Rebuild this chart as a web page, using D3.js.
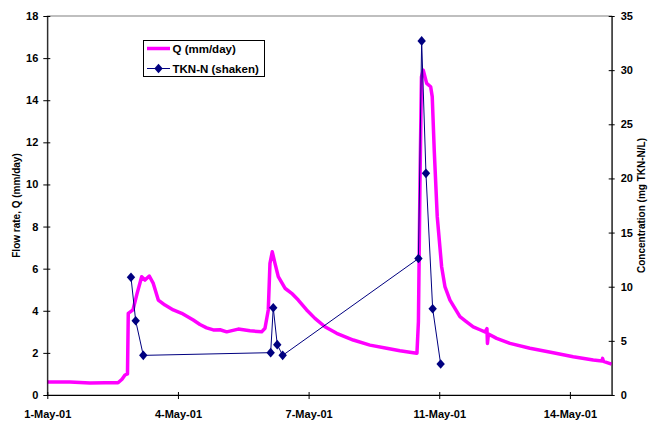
<!DOCTYPE html>
<html>
<head>
<meta charset="utf-8">
<script src="https://cdn.jsdelivr.net/npm/d3@7"></script>
<style>
  html, body { margin: 0; padding: 0; background: #fff; }
  svg { display: block; font-family: "Liberation Sans", Arial, sans-serif; }
</style>
</head>
<body>
<svg id="chart" width="650" height="422"></svg>
<script>
// ---- data (days since 1-May-01 00:00) ----
const qDay = [0, 0.579, 1.089, 1.472, 1.804, 1.906, 1.982, 2.046, 2.066, 2.186, 2.288, 2.408, 2.492, 2.602, 2.704, 2.832, 3.003, 3.214, 3.429, 3.724, 3.895, 4.066, 4.235, 4.406, 4.577, 4.872, 5.171, 5.469, 5.554, 5.638, 5.681, 5.740, 5.809, 5.893, 6.064, 6.235, 6.403, 6.617, 6.829, 7.084, 7.383, 7.806, 8.232, 8.658, 8.997, 9.337, 9.431, 9.469, 9.508, 9.546, 9.592, 9.679, 9.781, 9.821, 9.872, 9.949, 10.061, 10.145, 10.273, 10.528, 10.681, 10.867, 11.038, 11.166, 11.217, 11.230, 11.255, 11.464, 11.804, 12.314, 12.908, 13.418, 13.929, 14.151, 14.168, 14.189, 14.398];
const qVal = [0.62, 0.62, 0.57, 0.58, 0.58, 0.75, 0.95, 1.0, 3.88, 4.04, 4.8, 5.62, 5.46, 5.65, 5.3, 4.51, 4.27, 4.04, 3.88, 3.56, 3.35, 3.19, 3.09, 3.1, 3.0, 3.13, 3.05, 3.0, 3.17, 4.04, 6.25, 6.8, 6.25, 5.62, 5.07, 4.83, 4.51, 4.04, 3.64, 3.24, 2.93, 2.61, 2.37, 2.22, 2.1, 2.01, 1.98, 3.5, 10.0, 15.1, 15.43, 14.8, 14.64, 14.17, 11.63, 8.47, 6.09, 5.15, 4.51, 3.72, 3.5, 3.24, 3.1, 3.0, 3.15, 2.45, 2.9, 2.69, 2.45, 2.22, 2.01, 1.82, 1.66, 1.62, 1.74, 1.6, 1.47];

const tknDay = [2.135, 2.255, 2.449, 5.699, 5.765, 5.867, 6.005, 9.469, 9.551, 9.661, 9.832, 10.036];
const tknVal = [10.87, 6.86, 3.66, 3.91, 8.06, 4.65, 3.66, 12.6, 32.7, 20.47, 7.97, 2.86];

const xTickDays = [0, 10/3, 20/3, 10, 40/3];
const xEndDay = 14.4;
const leftTicks = [0, 2, 4, 6, 8, 10, 12, 14, 16, 18];
const rightTicks = [0, 5, 10, 15, 20, 25, 30, 35];

const seriesNames = ["Q (mm/day)", "TKN-N (shaken)"];
const leftTitle = "Flow rate, Q (mm/day)";
const rightTitle = "Concentration (mg TKN-N/L)";

// ---- helpers ----
const base = Date.UTC(2001, 4, 1);
const toDate = d => new Date(base + d * 864e5);

const L = 47.3, R = 611.7, T = 16, B = 395;
const svg = d3.select("#chart");

const x = d3.scaleUtc().domain([toDate(0), toDate(xEndDay)]).range([L, R]);
const yL = d3.scaleLinear().domain([0, 18]).range([B, T]);
const yR = d3.scaleLinear().domain([0, 35]).range([B, T]);

// plot-area border
svg.append("rect").attr("x", L).attr("y", T).attr("width", R - L).attr("height", B - T)
  .attr("fill", "none").attr("stroke", "#808080").attr("stroke-width", 1);

// Q line
const qData = qDay.map((d, i) => ({ t: toDate(d), v: qVal[i] }));
svg.append("path").datum(qData)
  .attr("fill", "none").attr("stroke", "#FF00FF").attr("stroke-width", 3.5)
  .attr("stroke-linejoin", "round")
  .attr("d", d3.line().x(d => x(d.t)).y(d => yL(d.v)));

// TKN line + markers
const tData = tknDay.map((d, i) => ({ t: toDate(d), v: tknVal[i] }));
svg.append("path").datum(tData)
  .attr("fill", "none").attr("stroke", "#000080").attr("stroke-width", 1)
  .attr("d", d3.line().x(d => x(d.t)).y(d => yR(d.v)));
const diamond = "M0,-4.8L4.2,0L0,4.8L-4.2,0Z";
svg.append("g").selectAll("path").data(tData).join("path")
  .attr("transform", d => `translate(${x(d.t)},${yR(d.v)})`)
  .attr("d", diamond).attr("fill", "#000080");

// axes
function styleAxis(g) {
  g.selectAll("path.domain").attr("stroke", "#000").attr("stroke-width", 1);
  g.selectAll(".tick line").attr("stroke", "#000");
  g.selectAll("text").attr("font-size", 11).attr("font-weight", "bold").attr("fill", "#000")
    .attr("font-family", '"Liberation Sans", Arial, sans-serif');
}

const gx = svg.append("g").attr("transform", `translate(0,${B})`)
  .call(d3.axisBottom(x).tickValues(xTickDays.map(toDate))
    .tickFormat(d3.utcFormat("%-d-%b-%y")).tickSizeOuter(0));
gx.selectAll(".tick line").attr("y1", -3).attr("y2", 4);
gx.selectAll(".tick text").attr("y", 15).attr("dy", "0.71em");
styleAxis(gx);

const gl = svg.append("g").attr("transform", `translate(${L},0)`)
  .call(d3.axisLeft(yL).tickValues(leftTicks).tickFormat(d3.format("d")).tickSizeOuter(0));
gl.selectAll(".tick line").attr("x1", 3).attr("x2", -4);
gl.selectAll(".tick text").attr("x", -9);
styleAxis(gl);

const gr = svg.append("g").attr("transform", `translate(${R},0)`)
  .call(d3.axisRight(yR).tickValues(rightTicks).tickFormat(d3.format("d")).tickSizeOuter(0));
gr.selectAll(".tick line").attr("x1", -3).attr("x2", 3);
gr.selectAll(".tick text").attr("x", 9);
styleAxis(gr);

// axis titles
svg.append("text").attr("transform", `translate(20,${(T + B) / 2}) rotate(-90)`)
  .attr("text-anchor", "middle").attr("font-size", 10).attr("font-weight", "bold")
  .text(leftTitle);
svg.append("text").attr("transform", `translate(645,${(T + B) / 2}) rotate(-90)`)
  .attr("text-anchor", "middle").attr("font-size", 10).attr("font-weight", "bold")
  .text(rightTitle);

// legend
const lg = svg.append("g");
lg.append("rect").attr("x", 143.5).attr("y", 40.5).attr("width", 121).attr("height", 36)
  .attr("fill", "#fff").attr("stroke", "#000").attr("stroke-width", 1);
lg.append("line").attr("x1", 147).attr("x2", 170).attr("y1", 48.5).attr("y2", 48.5)
  .attr("stroke", "#FF00FF").attr("stroke-width", 3.5);
lg.append("line").attr("x1", 147).attr("x2", 170).attr("y1", 68.5).attr("y2", 68.5)
  .attr("stroke", "#000080").attr("stroke-width", 1);
lg.append("path").attr("transform", "translate(158.5,68.5)").attr("d", diamond).attr("fill", "#000080");
lg.selectAll("text.leg").data(seriesNames).join("text").attr("class", "leg")
  .attr("x", 172.5).attr("y", (d, i) => 52.5 + i * 20)
  .attr("font-size", 11.5).attr("font-weight", "bold").text(d => d);
</script>
</body>
</html>
